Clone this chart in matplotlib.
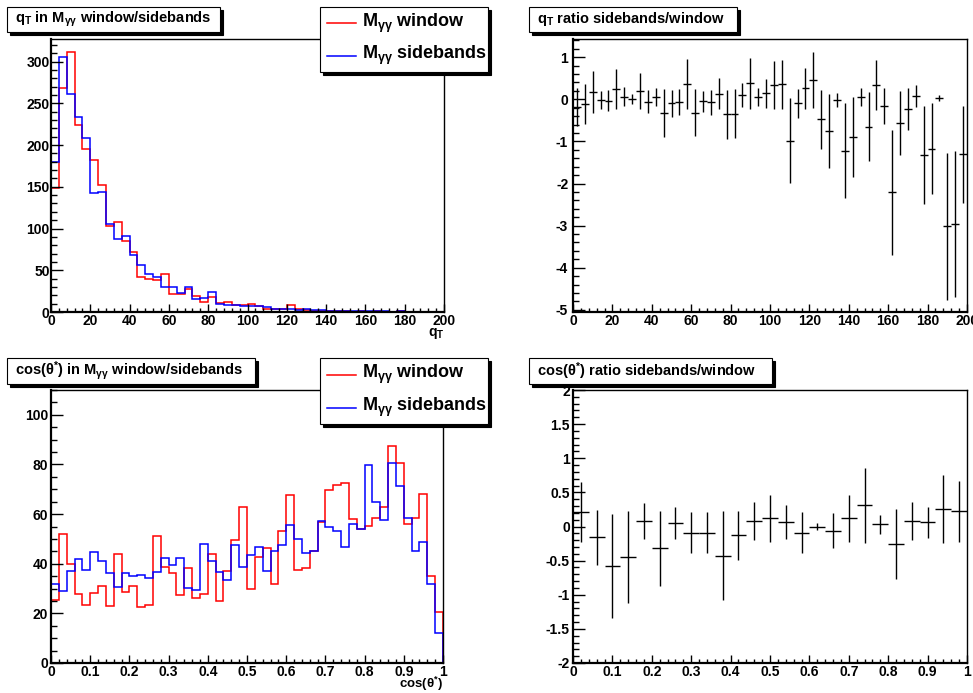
import numpy as np
import matplotlib
matplotlib.use("Agg")
import matplotlib.pyplot as plt
from matplotlib.patches import Rectangle
from matplotlib.lines import Line2D
from matplotlib.ticker import MultipleLocator, FuncFormatter

plt.rcParams["font.family"] = ["Liberation Sans", "DejaVu Sans"]
plt.rcParams["font.weight"] = "bold"
plt.rcParams["mathtext.default"] = "regular"

# q_T histograms, 50 bins 0..200
qt_window = [148, 268, 311, 224, 195, 182, 152, 103, 108, 85,
             72, 42, 40, 38, 45, 22, 21, 28, 19, 12,
             18, 11, 12, 8, 8, 10, 7, 3, 4, 4,
             8, 3, 2, 1.5, 1, 1, 1, 0.8, 0.5, 1,
             0.5, 0.8, 0.4, 0.5, 0.6, 0.3, 0.5, 0.2, 0.2, 0.3]
qt_sidebands = [180, 305, 261, 234, 208, 142, 144, 105, 88, 91,
                68, 56, 45, 42, 30, 30, 23, 30, 16, 17,
                24, 10, 8, 8, 7, 7, 7, 6, 4, 3,
                4, 2, 3, 2, 2, 1.5, 1, 1, 1, 1,
                0.8, 0.8, 0.6, 0.5, 0.6, 0.5, 0.4, 0.3, 0.3, 0.3]

# q_T ratio, 50 bins 0..200
qt_ratio = [-0.19, -0.11, 0.18, -0.02, -0.04, 0.24, 0.06, 0.0, 0.2, -0.06,
            0.06, -0.33, -0.1, -0.07, 0.36, -0.32, -0.05, -0.07, 0.13, -0.36,
            -0.34, 0.1, 0.38, 0.06, 0.14, 0.34, 0.36, -0.98, -0.1, 0.26,
            0.46, -0.48, -0.75, -0.02, -1.22, -0.89, 0.06, -0.65, 0.34, -0.16,
            -2.21, -0.56, -0.23, 0.08, -1.33, -1.17, 0.02, -3.02, -2.97, -1.31]
qt_ratio_err = [0.45, 0.47, 0.5, 0.21, 0.25, 0.47, 0.22, 0.12, 0.42, 0.27,
                0.21, 0.57, 0.32, 0.31, 0.59, 0.56, 0.25, 0.3, 0.37, 0.59,
                0.59, 0.29, 0.6, 0.21, 0.35, 0.57, 0.58, 1.0, 0.35, 0.49,
                0.67, 0.7, 0.88, 0.17, 1.12, 0.95, 0.21, 0.82, 0.59, 0.42,
                1.49, 0.76, 0.5, 0.27, 1.16, 1.08, 0.07, 1.74, 1.73, 1.15]

# cos(theta*) histograms, 50 bins 0..1
cos_window = [25.5, 52, 39.8, 28, 23.5, 28.3, 31, 22.8, 43.8, 28.8,
              31, 22.5, 23.5, 51, 38.8, 36.4, 27.6, 38.4, 26, 28,
              43.8, 24.9, 37, 49.7, 63, 29.8, 42.9, 46.5, 31.7, 53.2,
              67.5, 37.5, 38.1, 45.3, 57, 69.8, 71.8, 72.5, 58.1, 54,
              55.4, 58.6, 62.7, 87.3, 80.6, 55.9, 58.4, 68.1, 35, 20.4]
cos_sidebands = [32, 29.2, 37, 42, 37.3, 44.7, 41.3, 36.2, 30.5, 36.4,
                 35, 35.6, 34.2, 36.5, 42.5, 39.4, 42.3, 30.2, 29.6, 48,
                 41, 36.7, 33.5, 47.6, 38.8, 43.5, 46.9, 37.2, 45.1, 47.6,
                 55.7, 50, 44.5, 45.1, 57.3, 54.6, 53.2, 46.9, 56.2, 54,
                 79.6, 64.7, 57.7, 80.6, 71.2, 58.4, 45.1, 48.9, 31.8, 12.1]

# cos(theta*) ratio, 25 bins 0..1
cos_ratio = [0.21, -0.16, -0.58, -0.45, 0.08, -0.32, 0.05, -0.09, -0.09, -0.43,
             -0.13, 0.08, 0.12, 0.06, -0.09, 0.0, -0.06, 0.12, 0.31, 0.03,
             -0.26, 0.08, 0.06, 0.26, 0.22]
cos_ratio_err = [0.44, 0.4, 0.76, 0.67, 0.26, 0.55, 0.23, 0.3, 0.3, 0.65,
                 0.36, 0.28, 0.34, 0.25, 0.3, 0.05, 0.26, 0.34, 0.55, 0.14,
                 0.51, 0.28, 0.23, 0.5, 0.45]

W, H = 973, 693
fig = plt.figure(figsize=(W / 100, H / 100), dpi=100)


def px_axes(x0, y0, x1, y1):
    return fig.add_axes([x0 / W, 1 - y1 / H, (x1 - x0) / W, (y1 - y0) / H])


def style(ax, xmaj, xmin, ymaj, ymin, ypad):
    ax.xaxis.set_major_locator(MultipleLocator(xmaj))
    ax.xaxis.set_minor_locator(MultipleLocator(xmin))
    ax.yaxis.set_major_locator(MultipleLocator(ymaj))
    ax.yaxis.set_minor_locator(MultipleLocator(ymin))
    fmt = FuncFormatter(lambda v, p: f"{v + 0.0:g}")
    ax.xaxis.set_major_formatter(fmt)
    ax.yaxis.set_major_formatter(fmt)
    ax.tick_params(which="both", direction="in", top=False, right=False,
                   width=1, labelsize=10)
    ax.tick_params(axis="y", which="major", length=8.5, pad=ypad)
    ax.tick_params(axis="y", which="minor", length=4.2)
    ax.tick_params(axis="x", which="major", length=5.9, pad=1.5)
    ax.tick_params(axis="x", which="minor", length=3)
    for s in ["left", "bottom"]:
        ax.spines[s].set_linewidth(1.6)
    for s in ["top", "right"]:
        ax.spines[s].set_linewidth(1.0)


def box(x0, y0, x1, y1):
    fig.add_artist(Rectangle(((x0 + 3) / W, 1 - (y1 + 3) / H), (x1 - x0) / W,
                             (y1 - y0) / H, transform=fig.transFigure,
                             fc="black", ec="black", lw=0.8, zorder=10))
    fig.add_artist(Rectangle((x0 / W, 1 - y1 / H), (x1 - x0) / W, (y1 - y0) / H,
                             transform=fig.transFigure, fc="white", ec="black",
                             lw=0.8, zorder=11))


def title(x0, y0, x1, y1, text):
    box(x0, y0, x1, y1)
    fig.text((x0 + 8) / W, 1 - (y0 + y1) / 2 / H, text, fontsize=10.5,
             ha="left", va="center", zorder=12)


def legend(x0, y0, x1, y1):
    box(x0, y0, x1, y1)
    h = y1 - y0
    for frac, col, lab in [(0.25, "red", "M$_{γγ}$ window"),
                           (0.75, "blue", "M$_{γγ}$ sidebands")]:
        yy = 1 - (y0 + frac * h) / H
        fig.add_artist(Line2D([(x0 + 7) / W, (x0 + 36) / W], [yy, yy],
                              transform=fig.transFigure, color=col, lw=1.1,
                              zorder=12))
        fig.text((x0 + 42) / W, yy, lab, fontsize=13, ha="left", va="center",
                 zorder=12)


# top left: q_T histograms
qt_edges = np.linspace(0, 200, len(qt_window) + 1)
ax1 = px_axes(51, 39, 444, 312)
ax1.stairs(qt_window, qt_edges, color="#ff0000", lw=1.1, baseline=0)
ax1.stairs(qt_sidebands, qt_edges, color="#0000ff", lw=1.1, baseline=0)
ax1.set_xlim(0, 200)
ax1.set_ylim(0, 327)
style(ax1, 20, 4, 50, 10, 1)
ax1.text(1.0, -14 / 273, "q$_{T}$", transform=ax1.transAxes, ha="right",
         va="top", fontsize=10)

# top right: q_T ratio
qt_x = (qt_edges[:-1] + qt_edges[1:]) / 2
ax2 = px_axes(573, 39, 967, 312)
ax2.errorbar(qt_x, qt_ratio, yerr=qt_ratio_err, xerr=np.diff(qt_edges) / 2,
             fmt="none", ecolor="black", elinewidth=1, capsize=0)
ax2.set_xlim(0, 200)
ax2.set_ylim(-5.05, 1.43)
style(ax2, 20, 4, 1, 0.2, 3.5)

# bottom left: cos(theta*) histograms
cos_edges = np.linspace(0, 1, len(cos_window) + 1)
ax3 = px_axes(51, 390, 443, 663)
ax3.stairs(cos_window, cos_edges, color="#ff0000", lw=1.1, baseline=0)
ax3.stairs(cos_sidebands, cos_edges, color="#0000ff", lw=1.1, baseline=0)
ax3.set_xlim(0, 1)
ax3.set_ylim(0, 110)
style(ax3, 0.1, 0.02, 20, 5, 2.2)
ax3.text(1.0, -12 / 273, "cos(θ$^{*}$)", transform=ax3.transAxes, ha="right",
         va="top", fontsize=9.5)

# bottom right: cos(theta*) ratio
cr_edges = np.linspace(0, 1, len(cos_ratio) + 1)
cr_x = (cr_edges[:-1] + cr_edges[1:]) / 2
ax4 = px_axes(573, 390, 967, 663)
ax4.errorbar(cr_x, cos_ratio, yerr=cos_ratio_err, xerr=np.diff(cr_edges) / 2,
             fmt="none", ecolor="black", elinewidth=1, capsize=0)
ax4.set_xlim(0, 1)
ax4.set_ylim(-2, 2)
style(ax4, 0.1, 0.02, 0.5, 0.1, 2.2)

title(7, 7, 220, 32, "q$_{T}$ in M$_{γγ}$ window/sidebands")
title(529, 7, 737, 32, "q$_{T}$ ratio sidebands/window")
title(7, 358, 255, 384, "cos(θ$^{*}$) in M$_{γγ}$ window/sidebands")
title(529, 358, 772, 384, "cos(θ$^{*}$) ratio sidebands/window")
legend(320, 7, 488, 72)
legend(320, 358, 488, 424)

fig.savefig("out.png", dpi=100)
